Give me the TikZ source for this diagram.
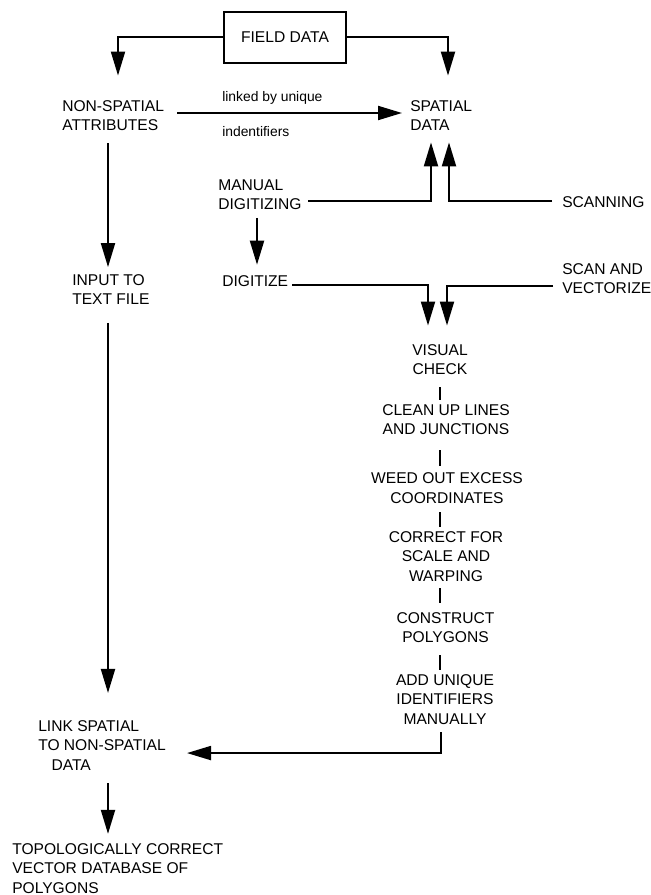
\documentclass[tikz,border=0pt]{standalone}
\usepackage{fontspec}
\setmainfont{Liberation Sans}
\usetikzlibrary{arrows.meta,calc}
\begin{document}
\begin{tikzpicture}[x=0.75pt,y=-0.75pt,
  txt/.style={font=\fontsize{11.7}{14.5}\selectfont, inner sep=0pt, align=left, anchor=west},
  ctxt/.style={font=\fontsize{11.7}{14.5}\selectfont, inner sep=0pt, align=center},
  lbl/.style={font=\fontsize{10.4}{12.5}\selectfont, inner sep=0pt, anchor=west},
  ln/.style={line width=1.5pt},
  arr/.style={ln, -{Triangle[length=18pt,width=10.5pt]}},
  fbox/.style={draw, line width=1.6pt, minimum width=91.5pt, minimum height=38.25pt, inner sep=0pt, font=\fontsize{11.7}{14.5}\selectfont}]
\useasboundingbox (0,0) rectangle (650,895);

% nodes
\node[fbox] (fd) at (285,37.5) {FIELD DATA};
\node[txt] (ns) at (62,115.5) {NON-SPATIAL\\ATTRIBUTES};
\node[txt] (sp) at (410,115.5) {SPATIAL\\DATA};
\node[lbl] (lk1) at (222,98) {linked by unique};
\node[lbl] (lk2) at (222,131.7) {indentifiers};
\node[txt] (md) at (218,195) {MANUAL\\DIGITIZING};
\node[txt] (scn) at (562,202) {SCANNING};
\node[txt] (dg) at (222,281) {DIGITIZE};
\node[txt] (sv) at (562,278.5) {SCAN AND\\VECTORIZE};
\node[txt] (it) at (72,289.5) {INPUT TO\\TEXT FILE};
\node[ctxt] (vc) at (440,359.5) {VISUAL\\CHECK};
\node[ctxt] (cu) at (446,419.5) {CLEAN UP LINES\\AND JUNCTIONS};
\node[ctxt] (wo) at (447,488) {WEED OUT EXCESS\\COORDINATES};
\node[ctxt] (cf) at (446,556.5) {CORRECT FOR\\SCALE AND\\WARPING};
\node[ctxt] (cp) at (445.5,627.5) {CONSTRUCT\\POLYGONS};
\node[ctxt] (au) at (445,699.5) {ADD UNIQUE\\IDENTIFIERS\\MANUALLY};
\node[txt] (lk) at (38,745.5) {LINK SPATIAL\\TO NON-SPATIAL\\\hspace*{10pt}DATA};
\node[txt] (tp) at (12,868.5) {TOPOLOGICALLY CORRECT\\VECTOR DATABASE OF\\POLYGONS};

% connectors
\draw[arr] (fd.west) -| ($(ns.north west)+(56,-24.5)$);
\draw[arr] (fd.east) -| ($(sp.north west)+(38,-24.5)$);
\draw[arr] ($(ns.west)+(115,-2.5)$) -- ($(sp.west)+(-8,-2.5)$);

\draw[arr] ($(md.south west)+(90,-9.5)$) -| ($(sp.south west)+(21,11.5)$);
\draw[arr] ($(scn.west)+(-10,-1)$) -| ($(sp.south west)+(39,11.5)$);

\draw[arr] ($(md.south west)+(39,7.5)$) -- ($(dg.north west)+(35,-10.5)$);

\draw[arr] ($(dg.west)+(70,4)$) -| ($(vc.north)+(-12,-18.5)$);
\draw[arr] ($(sv.west)+(-9,7.5)$) -| ($(vc.north)+(7,-18.5)$);

\draw[arr] ($(ns.south west)+(46,12.5)$) -- ($(it.north west)+(36,-7)$);
\draw[arr] ($(it.south west)+(36,18)$) -- ($(lk.north west)+(70,-27.5)$);

\draw[ln] ($(vc.south)+(0,12.4)$) -- ($(cu.north)+(-6,-4.4)$);
\draw[ln] ($(cu.south)+(-6,15.4)$) -- ($(wo.north)+(-7,-6.9)$);
\draw[ln] ($(wo.south)+(-7,8.6)$) -- ($(cf.north)+(-6,-4.4)$);
\draw[ln] ($(cf.south)+(-6,6.4)$) -- ($(cp.north)+(-5.5,-9.4)$);
\draw[ln] ($(cp.south)+(-5.5,12.4)$) -- ($(au.north)+(-5,-4.4)$);

\draw[arr] ($(au.south)+(-4,7.4)$) |- ($(lk.south west)+(149,-17.5)$);
\draw[arr] ($(lk.south west)+(70,12.5)$) -- ($(tp.north west)+(96,-9.5)$);
\end{tikzpicture}
\end{document}
